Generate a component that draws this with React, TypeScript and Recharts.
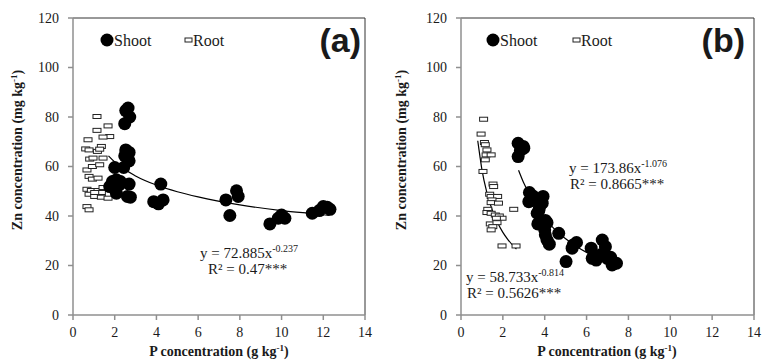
import { ComposedChart, Line, ReferenceLine, Scatter, XAxis, YAxis } from 'recharts'
import type { ReactNode } from 'react'

type Pt = { x: number; y: number }

const xTicks = [0, 2, 4, 6, 8, 10, 12, 14]
const yTicks = [0, 20, 40, 60, 80, 100, 120]

// panel (a)
const shootA: Pt[] = [
  { x: 2.64, y: 83.6 }, { x: 2.53, y: 82.6 }, { x: 2.72, y: 80.0 }, { x: 2.48, y: 77.3 },
  { x: 2.53, y: 66.7 }, { x: 2.69, y: 65.7 }, { x: 2.48, y: 64.3 }, { x: 2.69, y: 62.3 },
  { x: 2.0, y: 59.6 }, { x: 2.43, y: 59.6 },
  { x: 1.76, y: 51.9 }, { x: 1.89, y: 53.9 }, { x: 2.08, y: 54.6 }, { x: 2.27, y: 53.9 },
  { x: 2.21, y: 52.6 }, { x: 1.95, y: 52.6 }, { x: 2.69, y: 52.9 }, { x: 2.08, y: 49.2 },
  { x: 2.61, y: 47.9 }, { x: 2.75, y: 47.6 },
  { x: 4.21, y: 52.9 }, { x: 3.87, y: 45.8 }, { x: 4.1, y: 44.9 }, { x: 4.32, y: 46.5 },
  { x: 7.33, y: 46.5 }, { x: 7.52, y: 40.2 }, { x: 7.84, y: 50.2 }, { x: 7.92, y: 47.9 },
  { x: 9.44, y: 36.8 }, { x: 9.84, y: 39.1 }, { x: 10.0, y: 40.4 }, { x: 10.16, y: 39.1 },
  { x: 11.47, y: 41.1 }, { x: 11.81, y: 42.2 }, { x: 12.0, y: 43.8 }, { x: 12.19, y: 43.5 },
  { x: 12.32, y: 42.7 },
]

const rootA: Pt[] = [
  { x: 1.15, y: 80.2 }, { x: 1.68, y: 76.4 }, { x: 1.15, y: 74.6 }, { x: 1.76, y: 72.1 },
  { x: 1.44, y: 71.9 }, { x: 0.72, y: 70.8 }, { x: 1.36, y: 68.1 }, { x: 0.61, y: 67.1 },
  { x: 0.77, y: 66.7 }, { x: 1.17, y: 66.1 }, { x: 1.28, y: 67.0 }, { x: 0.8, y: 63.0 },
  { x: 0.96, y: 63.4 }, { x: 1.44, y: 63.4 }, { x: 0.67, y: 58.6 }, { x: 0.93, y: 60.0 },
  { x: 1.28, y: 60.7 }, { x: 0.77, y: 56.0 }, { x: 0.93, y: 54.9 }, { x: 1.2, y: 55.3 },
  { x: 0.67, y: 50.8 }, { x: 0.88, y: 50.3 }, { x: 1.2, y: 50.3 }, { x: 1.44, y: 51.5 },
  { x: 1.36, y: 49.5 }, { x: 0.77, y: 48.8 }, { x: 1.04, y: 47.9 }, { x: 1.36, y: 47.6 },
  { x: 1.68, y: 47.2 }, { x: 0.67, y: 43.8 }, { x: 0.77, y: 42.5 }, { x: 1.04, y: 49.5 },
]

const trendShootA: Pt[] = [
  { x: 1.7, y: 64.3 }, { x: 2, y: 61.8 }, { x: 3, y: 56.2 }, { x: 4, y: 52.5 },
  { x: 5, y: 49.8 }, { x: 6, y: 47.7 }, { x: 8, y: 44.5 }, { x: 10, y: 42.2 },
  { x: 12, y: 40.5 }, { x: 12.3, y: 40.2 },
]

// panel (b)
const shootB: Pt[] = [
  { x: 2.73, y: 69.4 }, { x: 2.97, y: 68.1 }, { x: 2.84, y: 66.5 }, { x: 2.73, y: 64.0 },
  { x: 3.0, y: 67.4 }, { x: 3.27, y: 49.5 }, { x: 3.43, y: 48.1 }, { x: 3.24, y: 45.8 },
  { x: 3.4, y: 46.5 }, { x: 3.92, y: 47.9 }, { x: 3.88, y: 45.2 }, { x: 3.75, y: 43.5 },
  { x: 3.64, y: 41.1 }, { x: 3.72, y: 42.2 }, { x: 3.67, y: 36.8 }, { x: 4.03, y: 38.2 },
  { x: 4.11, y: 37.3 }, { x: 4.0, y: 34.4 }, { x: 4.03, y: 32.4 }, { x: 4.11, y: 30.3 },
  { x: 4.22, y: 28.6 }, { x: 4.67, y: 33.0 }, { x: 5.36, y: 28.3 }, { x: 5.52, y: 29.3 },
  { x: 5.31, y: 27.0 }, { x: 5.02, y: 21.6 }, { x: 6.22, y: 27.0 }, { x: 6.27, y: 22.9 },
  { x: 6.46, y: 22.2 }, { x: 6.75, y: 30.3 }, { x: 6.9, y: 27.6 }, { x: 6.79, y: 24.3 },
  { x: 6.99, y: 22.9 }, { x: 7.15, y: 23.3 }, { x: 7.3, y: 20.9 }, { x: 7.22, y: 20.2 },
  { x: 7.43, y: 20.9 }, { x: 6.67, y: 24.3 },
]

const rootB: Pt[] = [
  { x: 1.08, y: 79.1 }, { x: 0.96, y: 73.1 }, { x: 1.12, y: 69.7 }, { x: 1.16, y: 68.8 },
  { x: 1.24, y: 66.7 }, { x: 1.2, y: 64.7 }, { x: 1.44, y: 64.7 }, { x: 1.16, y: 62.7 },
  { x: 1.05, y: 58.0 }, { x: 1.53, y: 52.9 }, { x: 1.56, y: 51.9 }, { x: 1.37, y: 48.8 },
  { x: 1.44, y: 47.9 }, { x: 1.75, y: 47.9 }, { x: 1.48, y: 46.5 }, { x: 1.44, y: 45.4 },
  { x: 1.79, y: 45.2 }, { x: 1.28, y: 42.7 }, { x: 1.24, y: 41.4 }, { x: 1.44, y: 41.1 },
  { x: 1.64, y: 40.4 }, { x: 1.83, y: 40.0 }, { x: 1.96, y: 39.1 }, { x: 1.69, y: 39.1 },
  { x: 1.4, y: 36.8 }, { x: 1.72, y: 37.3 }, { x: 1.52, y: 35.7 }, { x: 1.44, y: 34.4 },
  { x: 2.52, y: 42.7 }, { x: 1.96, y: 27.9 }, { x: 2.63, y: 27.9 },
]

const trendShootB: Pt[] = [
  { x: 2.75, y: 58.5 }, { x: 3, y: 53.3 }, { x: 3.5, y: 45.2 }, { x: 4, y: 39.1 },
  { x: 4.5, y: 34.4 }, { x: 5, y: 30.8 }, { x: 5.5, y: 27.8 }, { x: 6, y: 25.3 },
  { x: 6.5, y: 23.3 }, { x: 7, y: 21.4 }, { x: 7.3, y: 20.5 },
]

const trendRootB: Pt[] = [
  { x: 0.8, y: 70.4 }, { x: 0.9, y: 64.4 }, { x: 1, y: 58.7 }, { x: 1.25, y: 49.0 },
  { x: 1.5, y: 42.2 }, { x: 1.75, y: 37.3 }, { x: 2, y: 33.4 }, { x: 2.25, y: 30.4 },
  { x: 2.5, y: 27.9 }, { x: 2.65, y: 26.6 },
]

const SERIF = "'Liberation Serif', 'Times New Roman', serif"
const SANS = "'Liberation Sans', Arial, sans-serif"
const INK = '#1a1a1a'

const ShootDot = (props: any) => (
  <circle cx={props.cx} cy={props.cy} r={6.5} fill='#000' />
)

const RootBox = (props: any) => (
  <rect
    x={props.cx - 4}
    y={props.cy - 2}
    width={8}
    height={4}
    fill='#fff'
    stroke='#222'
    strokeWidth={1}
  />
)

// custom ticks so the serif face is applied for sure
const XTick = ({ x, y, payload }: any) => (
  <text x={x} y={y} dy='0.75em' textAnchor='middle' fontSize={14} fill={INK} style={{ fontFamily: SERIF }}>
    {payload.value}
  </text>
)

const YTick = ({ x, y, payload }: any) => (
  <text x={x} y={y} dy='0.35em' textAnchor='end' fontSize={14} fill={INK} style={{ fontFamily: SERIF }}>
    {payload.value}
  </text>
)

interface PanelProps {
  shoot: Pt[]
  root: Pt[]
  trends: Pt[][]
  marginLeft: number
  marginRight: number
  overlay: ReactNode
}

const Panel = ({ shoot, root, trends, marginLeft, marginRight, overlay }: PanelProps) => (
  <div style={{ position: 'relative', width: 384, height: 363 }}>
    <ComposedChart
      width={384}
      height={363}
      margin={{ top: 18, right: marginRight, bottom: 8, left: marginLeft }}
    >
      <XAxis
        type='number'
        dataKey='x'
        domain={[0, 14]}
        ticks={xTicks}
        interval={0}
        height={40}
        tickSize={5}
        tickMargin={6}
        stroke='#8f8f8f'
        strokeWidth={1.5}
        tick={XTick}
        allowDataOverflow
      />
      <YAxis
        type='number'
        dataKey='y'
        domain={[0, 120]}
        ticks={yTicks}
        interval={0}
        width={60}
        tickSize={5}
        tickMargin={9}
        stroke='#8f8f8f'
        strokeWidth={1.5}
        tick={YTick}
        allowDataOverflow
      />
      <ReferenceLine y={120} stroke='#333' strokeWidth={1} />
      <ReferenceLine x={14} stroke='#333' strokeWidth={1} />
      <Scatter data={root} shape={RootBox} isAnimationActive={false} />
      <Scatter data={shoot} shape={ShootDot} isAnimationActive={false} />
      {trends.map((t, i) => (
        <Line
          key={i}
          data={t}
          dataKey='y'
          type='monotone'
          stroke='#000'
          strokeWidth={1.2}
          dot={false}
          activeDot={false}
          isAnimationActive={false}
        />
      ))}
    </ComposedChart>
    <svg
      width={384}
      height={363}
      style={{ position: 'absolute', left: 0, top: 0, pointerEvents: 'none' }}
    >
      <text
        transform='translate(22,150) rotate(-90)'
        textAnchor='middle'
        style={{ fontFamily: SERIF }}
        fontWeight='bold'
        fontSize={14}
        fill={INK}
      >
        <tspan>Zn concentration (mg kg</tspan>
        <tspan dy={-5} fontSize={9}>-1</tspan>
        <tspan dy={5}>)</tspan>
      </text>
      <text
        x={219 + (marginLeft - 13)}
        y={356}
        textAnchor='middle'
        style={{ fontFamily: SERIF }}
        fontWeight='bold'
        fontSize={14}
        fill={INK}
      >
        <tspan>P concentration (g kg</tspan>
        <tspan dy={-5} fontSize={9}>-1</tspan>
        <tspan dy={5}>)</tspan>
      </text>
      {overlay}
    </svg>
  </div>
)

const Legend = ({ dx }: { dx: number }) => (
  <g>
    <circle cx={107 + dx} cy={40} r={6.5} fill='#000' />
    <text x={114 + dx} y={46} fontSize={16} fill={INK} style={{ fontFamily: SERIF }}>Shoot</text>
    <rect x={185 + dx * 2} y={38} width={7} height={4} fill='#fff' stroke='#222' />
    <text x={193 + dx * 2} y={46} fontSize={16} fill={INK} style={{ fontFamily: SERIF }}>Root</text>
  </g>
)

const Equation = ({
  x,
  y,
  main,
  exp,
  r2,
  r2x,
}: {
  x: number
  y: number
  main: string
  exp: string
  r2: string
  r2x: number
}) => (
  <g>
    <text x={x} y={y} fontSize={15} fill={INK} style={{ fontFamily: SERIF }}>
      <tspan>{main}</tspan>
      <tspan dy={-6} fontSize={10}>{exp}</tspan>
    </text>
    <text x={r2x} y={y + 16} fontSize={15} fill={INK} style={{ fontFamily: SERIF }}>{r2}</text>
  </g>
)

const PanelTag = ({ label }: { label: string }) => (
  <text
    x={361}
    y={52}
    textAnchor='end'
    style={{ fontFamily: SANS }}
    fontWeight='bold'
    fontSize={34}
    fill={INK}
  >
    {label}
  </text>
)

export default function App() {
  return (
    <div
      style={{
        position: 'absolute',
        left: 0,
        top: 0,
        width: 768,
        height: 363,
        display: 'flex',
        background: '#fff',
      }}
    >
      <Panel
        shoot={shootA}
        root={rootA}
        trends={[trendShootA]}
        marginLeft={13}
        marginRight={19}
        overlay={
          <>
            <Legend dx={0} />
            <PanelTag label='(a)' />
            <Equation
              x={200}
              y={258}
              main='y = 72.885x'
              exp='-0.237'
              r2='R² = 0.47***'
              r2x={208}
            />
          </>
        }
      />
      <Panel
        shoot={shootB}
        root={rootB}
        trends={[trendShootB, trendRootB]}
        marginLeft={17}
        marginRight={14}
        overlay={
          <>
            <Legend dx={2} />
            <PanelTag label='(b)' />
            <Equation
              x={185}
              y={173}
              main='y = 173.86x'
              exp='-1.076'
              r2='R² = 0.8665***'
              r2x={186}
            />
            <Equation
              x={82}
              y={282}
              main='y = 58.733x'
              exp='-0.814'
              r2='R² = 0.5626***'
              r2x={83}
            />
          </>
        }
      />
    </div>
  )
}
